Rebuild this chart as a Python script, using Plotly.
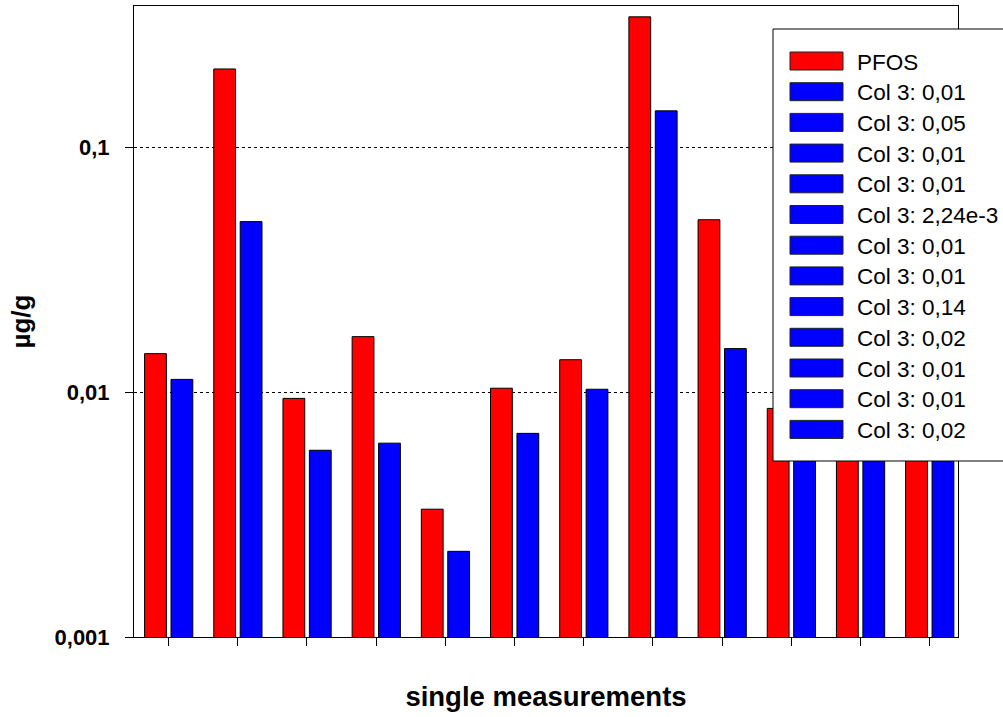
import plotly.graph_objects as go

# ---- data ----
measurements = list(range(1, 13))
pfos = [0.0144, 0.21, 0.00945, 0.0169, 0.00333, 0.0104, 0.0136, 0.343, 0.0508, 0.0086, 0.0120, 0.0095]
col3 = [0.0113, 0.0499, 0.0058, 0.0062, 0.00224, 0.0068, 0.0103, 0.1416, 0.0151, 0.0098, 0.0085, 0.0160]
col3_labels = ["0,01", "0,05", "0,01", "0,01", "2,24e-3", "0,01", "0,01", "0,14", "0,02", "0,01", "0,01", "0,02"]
y_tickvals = [0.001, 0.01, 0.1]
y_ticktext = ["0,001", "0,01", "0,1"]

FONT = "Arial, Liberation Sans, sans-serif"
RED = "#FF0000"
BLUE = "#0000FF"

# plot-area geometry in pixels
W, H = 1003, 717
ML, MR, MT, MB = 134, 45, 6, 80
PW, PH = W - ML - MR, H - MT - MB


def px_x(px):
    return (px - ML) / PW


def px_y(py):
    return (H - MB - py) / PH


fig = go.Figure()
fig.add_trace(go.Bar(
    x=measurements, y=pfos, name="PFOS",
    marker=dict(color=RED, line=dict(color="#000000", width=1)),
    width=0.315, offset=-0.347,
))
for m, v, lab in zip(measurements, col3, col3_labels):
    fig.add_trace(go.Bar(
        x=[m], y=[v], name=f"Col 3: {lab}",
        marker=dict(color=BLUE, line=dict(color="#000000", width=1)),
        width=0.315, offset=0.035,
    ))

# ---- legend box drawn as layout shapes + text annotations ----
legend_names = [fig.data[0].name] + [t.name for t in fig.data[1:]]
legend_colors = [RED] + [BLUE] * len(col3)
shapes = [dict(
    type="rect", xref="paper", yref="paper", layer="above",
    x0=px_x(773), x1=px_x(1012), y0=px_y(461), y1=px_y(29),
    fillcolor="white", line=dict(color="black", width=1),
)]
annotations = []
first_cy, step = 61.0, 30.7
for k, (name, col) in enumerate(zip(legend_names, legend_colors)):
    cy = first_cy + k * step
    shapes.append(dict(
        type="rect", xref="paper", yref="paper", layer="above",
        x0=px_x(790), x1=px_x(843), y0=px_y(cy + 9), y1=px_y(cy - 9),
        fillcolor=col, line=dict(color="#222222", width=1),
    ))
    annotations.append(dict(
        xref="paper", yref="paper", x=px_x(855), y=px_y(cy + 1),
        xanchor="left", yanchor="middle", showarrow=False, text=name,
        font=dict(family=FONT, size=22.5, color="black"),
    ))

fig.update_layout(
    width=W, height=H,
    margin=dict(l=ML, r=MR, t=MT, b=MB, autoexpand=False),
    paper_bgcolor="white", plot_bgcolor="white",
    barmode="overlay",
    font=dict(family=FONT, color="black"),
    showlegend=False,
    shapes=shapes,
    annotations=annotations,
)
fig.update_xaxes(
    range=[0.5, 12.41], tickvals=measurements, showticklabels=False,
    ticks="outside", ticklen=8, tickcolor="black", tickwidth=1,
    showline=True, linecolor="black", linewidth=1, mirror=True,
    showgrid=False, zeroline=False,
    title=dict(text="<b>single measurements</b>", font=dict(family=FONT, size=27.5), standoff=41),
)
fig.update_yaxes(
    type="log", range=[-3, -0.4204],
    tickvals=y_tickvals, ticktext=y_ticktext,
    ticks="outside", ticklen=8, tickcolor="black", tickwidth=1,
    tickfont=dict(family=FONT, size=22, color="black", weight="bold"),
    ticklabelstandoff=11,
    showline=True, linecolor="black", linewidth=1, mirror=True,
    showgrid=True, gridcolor="black", griddash="dot", gridwidth=1,
    zeroline=False,
    title=dict(text="<b>µg/g</b>", font=dict(family=FONT, size=26), standoff=16),
)

fig.write_html(
    "out.html",
    config={"displayModeBar": False},
    post_script="document.body.style.margin='0px';",
)
